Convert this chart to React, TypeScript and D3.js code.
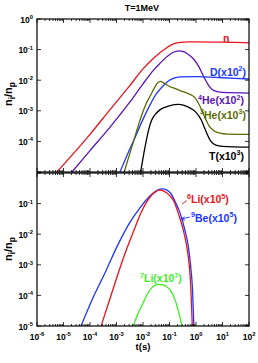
import React from 'react';
import * as d3 from 'd3';

const W = 258;
const H = 363;

// axis decades (log10)
const xDecades = [-6, -5, -4, -3, -2, -1, 0, 1, 2];
const topYDecades = [0, -1, -2, -3, -4];
const botYDecades = [-1, -2, -3, -4, -5];
const allYDecades = [0, -1, -2, -3, -4, -5];

// ---- top panel series: log10(t[s]) and log10(n_i/n_p) ----
const nLogT = [-5.25, -4, -3.25, -2.5, -2, -1.6, -1.36, -1.15, -0.98, -0.8, -0.6, -0.3, 0, 1, 1.5, 2];
const nLogY = [-5, -3.77, -2.97, -2.18, -1.63, -1.28, -1.1, -0.97, -0.87, -0.8, -0.765, -0.75, -0.75, -0.755, -0.765, -0.78];

const dLogT = [-2.87, -2.6, -2.34, -2.0, -1.7, -1.5, -1.36, -1.2, -1.0, -0.86, -0.6, 0, 0.5, 1, 2];
const dLogY = [-5, -4.45, -3.95, -3.28, -2.75, -2.45, -2.3, -2.15, -2.0, -1.94, -1.89, -1.88, -1.9, -1.92, -1.96];

const he4LogT = [-4.68, -4, -3.25, -2.5, -2, -1.6, -1.36, -1.15, -0.98, -0.8, -0.65, -0.5, -0.3, -0.1, 0.1, 0.3, 0.5, 0.7, 1, 2];
const he4LogY = [-5, -4.3, -3.54, -2.72, -2.12, -1.67, -1.45, -1.27, -1.15, -1.07, -1.04, -1.06, -1.15, -1.3, -1.55, -1.9, -2.2, -2.35, -2.4, -2.42];

const he3LogT = [-2.71, -2.34, -2.11, -1.9, -1.72, -1.55, -1.45, -1.35, -1.2, -1.05, -0.8, -0.6, -0.3, -0.05, 0.15, 0.35, 0.5, 0.7, 0.9, 1.2, 2];
const he3LogY = [-5, -3.95, -3.3, -2.8, -2.5, -2.22, -2.09, -2.04, -2.1, -2.18, -2.27, -2.34, -2.44, -2.56, -2.85, -3.25, -3.5, -3.67, -3.73, -3.76, -3.77];

const tLogT = [-2.09, -1.97, -1.87, -1.78, -1.68, -1.5, -1.36, -1.15, -0.98, -0.67, -0.45, -0.2, 0, 0.2, 0.35, 0.55, 0.75, 1, 2];
const tLogY = [-5, -4.4, -3.95, -3.6, -3.32, -3.08, -2.97, -2.88, -2.83, -2.79, -2.82, -2.92, -3.05, -3.3, -3.62, -3.98, -4.12, -4.16, -4.19];

// ---- bottom panel series ----
const be9LogT = [-4.34, -3.9, -3.4, -2.95, -2.5, -2.1, -1.74, -1.5, -1.29, -1.1, -0.95, -0.79, -0.6, -0.42, -0.29, -0.2, -0.13, -0.08];
const be9LogY = [-5, -4.1, -3.2, -2.35, -1.62, -1.12, -0.75, -0.58, -0.52, -0.56, -0.67, -0.93, -1.31, -1.86, -2.4, -3.06, -3.83, -5];

const li6LogT = [-3.58, -3.3, -3.0, -2.75, -2.5, -2.3, -2.1, -1.9, -1.67, -1.5, -1.38, -1.2, -1.0, -0.86, -0.67, -0.48, -0.35, -0.25, -0.19, -0.14];
const li6LogY = [-5, -4.25, -3.45, -2.8, -2.22, -1.78, -1.35, -1.0, -0.72, -0.6, -0.56, -0.6, -0.73, -0.88, -1.31, -1.86, -2.4, -3.06, -3.83, -5];

const li7LogT = [-2.37, -2.2, -2.05, -1.85, -1.7, -1.55, -1.42, -1.25, -1.1, -0.95, -0.86, -0.75, -0.67, -0.6, -0.54];
const li7LogY = [-5, -4.62, -4.35, -3.98, -3.78, -3.67, -3.64, -3.66, -3.72, -3.85, -4.0, -4.25, -4.5, -4.72, -5];

const FONT = '"Liberation Sans", Arial, Helvetica, sans-serif';

const L = 37, R = 249;
const TOP0 = 19, TOP1 = 172, BOT0 = 173, BOT1 = 326;

const x = d3.scaleLog().domain([1e-6, 1e2]).range([L, R]);
const yTop = d3.scaleLog().domain([1e-5, 1]).range([TOP1, TOP0]);
const yBot = d3.scaleLog().domain([1e-5, 1]).range([BOT1, BOT0]);

function makePath(lt: number[], ly: number[], y: any) {
  const pts: [number, number][] = lt.map((v, i) => [x(Math.pow(10, v)), y(Math.pow(10, ly[i]))]);
  return d3.line().curve(d3.curveMonotoneX)(pts) || '';
}

type Seg = { t: string; sup?: boolean };

function Label({ xPos, yPos, segs, color, size = 10.5, anchor = 'start' }: any) {
  let up = false;
  const supSize = size * 0.68;
  const shift = size * 0.42;
  return (
    <text x={xPos} y={yPos} fill={color} fontSize={size} fontWeight="bold" fontFamily={FONT} textAnchor={anchor}>
      {segs.map((s: Seg, i: number) => {
        let dy = 0;
        if (s.sup && !up) { dy = -shift; up = true; }
        else if (!s.sup && up) { dy = shift; up = false; }
        return (
          <tspan key={i} dy={dy} fontSize={s.sup ? supSize : size}>{s.t}</tspan>
        );
      })}
    </text>
  );
}

function Panel({ y, y0, y1, yLabels }: any) {
  const xt = x.ticks();
  return (
    <g>
      <rect x={L} y={y0} width={R - L} height={y1 - y0} fill="none" stroke="#000" strokeWidth={1.2} />
      {xt.map((t: number, i: number) => {
        const lg = Math.log10(t);
        const major = Math.abs(lg - Math.round(lg)) < 1e-9;
        const len = major ? 4 : 2;
        const px = x(t);
        return (
          <g key={i}>
            <line x1={px} x2={px} y1={y1} y2={y1 - len} stroke="#000" strokeWidth={0.8} />
            <line x1={px} x2={px} y1={y0} y2={y0 + len} stroke="#000" strokeWidth={0.8} />
          </g>
        );
      })}
      {allYDecades.map((d: number) => {
        const py = y(Math.pow(10, d));
        return (
          <g key={d}>
            <line x1={L} x2={L + 4} y1={py} y2={py} stroke="#000" strokeWidth={0.8} />
            <line x1={R} x2={R - 4} y1={py} y2={py} stroke="#000" strokeWidth={0.8} />
          </g>
        );
      })}
      {yLabels.map((d: number) => {
        const py = y(Math.pow(10, d));
        return (
          <Label key={d} xPos={33} yPos={py + 3.5} color="#000" size={8.5} anchor="end"
            segs={[{ t: '10' }, { t: d === 0 ? '0' : '-' + Math.abs(d), sup: true }]} />
        );
      })}
    </g>
  );
}

function YTitle({ cy }: any) {
  return (
    <text transform={`translate(12,${cy}) rotate(-90)`} textAnchor="middle" fontSize={11} fontWeight="bold" fontFamily={FONT} fill="#000">
      n<tspan dy={2.5} fontSize={8.5}>i</tspan><tspan dy={-2.5}>/n</tspan><tspan dy={2.5} fontSize={8.5}>p</tspan>
    </text>
  );
}

export default function App() {
  const RED = '#e8141c';
  const BLUE = '#2035ff';
  const PURPLE = '#5a14b4';
  const OLIVE = '#5a6c00';
  const GREEN = '#3cf02a';
  const sw = 1.3;
  return (
    <svg width={W} height={H} viewBox={`0 0 ${W} ${H}`} style={{ position: 'absolute', left: 0, top: 0, background: '#fff' }}>
      <defs>
        <clipPath id="clipTop"><rect x={L} y={TOP0} width={R - L} height={TOP1 - TOP0} /></clipPath>
        <clipPath id="clipBot"><rect x={L} y={BOT0} width={R - L} height={BOT1 - BOT0} /></clipPath>
      </defs>
      <rect x={0} y={0} width={W} height={H} fill="#fff" />
      <text x={142} y={11} textAnchor="middle" fontSize={9} fontWeight="bold" fontFamily={FONT}>T=1MeV</text>

      <g clipPath="url(#clipTop)" fill="none" strokeWidth={sw}>
        <path d={makePath(nLogT, nLogY, yTop)} stroke={RED} />
        <path d={makePath(he4LogT, he4LogY, yTop)} stroke={PURPLE} />
        <path d={makePath(dLogT, dLogY, yTop)} stroke={BLUE} />
        <path d={makePath(he3LogT, he3LogY, yTop)} stroke={OLIVE} />
        <path d={makePath(tLogT, tLogY, yTop)} stroke="#000" />
      </g>
      <g clipPath="url(#clipBot)" fill="none" strokeWidth={sw}>
        <path d={makePath(li7LogT, li7LogY, yBot)} stroke={GREEN} />
        <path d={makePath(be9LogT, be9LogY, yBot)} stroke={BLUE} />
        <path d={makePath(li6LogT, li6LogY, yBot)} stroke={RED} />
      </g>

      <Panel y={yTop} y0={TOP0} y1={TOP1} yLabels={topYDecades} />
      <Panel y={yBot} y0={BOT0} y1={BOT1} yLabels={botYDecades} />

      {xDecades.map((d) => (
        <Label key={d} xPos={x(Math.pow(10, d))} yPos={339.5} color="#000" size={8.5} anchor="middle"
          segs={[{ t: '10' }, { t: d < 0 ? '-' + Math.abs(d) : String(d), sup: true }]} />
      ))}
      <text x={143} y={350} textAnchor="middle" fontSize={9.5} fontWeight="bold" fontFamily={FONT}>t(s)</text>

      <YTitle cy={94} />
      <YTitle cy={249} />

      {/* top labels */}
      <Label xPos={223} yPos={42} color={RED} segs={[{ t: 'n' }]} />
      <Label xPos={210} yPos={75.5} color={BLUE} segs={[{ t: 'D(x10' }, { t: '2', sup: true }, { t: ')' }]} />
      <Label xPos={198} yPos={104} color={PURPLE} segs={[{ t: '4', sup: true }, { t: 'He(x10' }, { t: '2', sup: true }, { t: ')' }]} />
      <Label xPos={200} yPos={118.5} color={OLIVE} segs={[{ t: '3', sup: true }, { t: 'He(x10' }, { t: '3', sup: true }, { t: ')' }]} />
      <Label xPos={209} yPos={159.5} color="#000" segs={[{ t: 'T(x10' }, { t: '3', sup: true }, { t: ')' }]} />

      {/* bottom labels */}
      <line x1={182} y1={204} x2={187} y2={200.5} stroke={RED} strokeWidth={0.9} />
      <Label xPos={187} yPos={203} color={RED} segs={[{ t: '6', sup: true }, { t: 'Li(x10' }, { t: '5', sup: true }, { t: ')' }]} />
      <line x1={181} y1={219} x2={190} y2={217} stroke={BLUE} strokeWidth={0.9} />
      <path d="M184.5,216.8 L181,219 L185,220.3" fill="none" stroke={BLUE} strokeWidth={0.9} />
      <Label xPos={191} yPos={221.5} color={BLUE} segs={[{ t: '9', sup: true }, { t: 'Be(x10' }, { t: '5', sup: true }, { t: ')' }]} />
      <Label xPos={140} yPos={282} color={GREEN} segs={[{ t: '7', sup: true }, { t: 'Li(x10' }, { t: '7', sup: true }, { t: ')' }]} />
    </svg>
  );
}
